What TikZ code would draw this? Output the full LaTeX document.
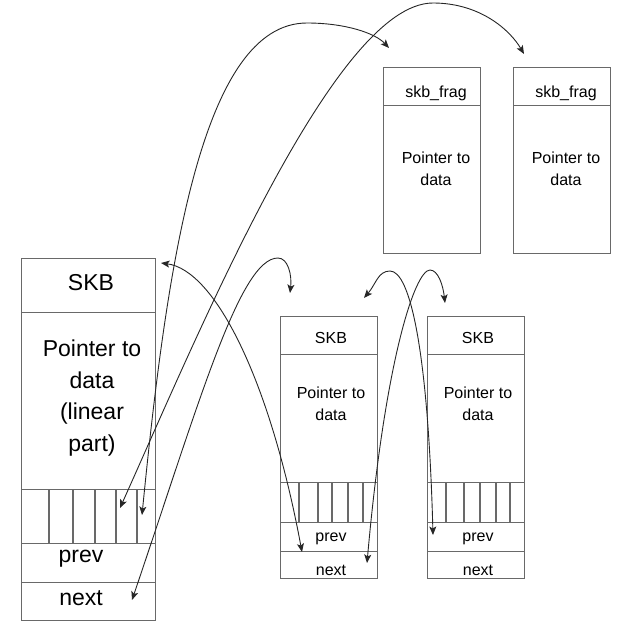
\documentclass[tikz,border=0pt]{standalone}
\usepackage{fontspec}
\setmainfont{Liberation Sans}
\usetikzlibrary{arrows.meta}
\definecolor{boxgray}{RGB}{105,105,105}
\newcommand{\bigtxt}{\fontsize{23}{31.5}\selectfont}
\newcommand{\smalltxt}{\fontsize{16}{22}\selectfont}
\begin{document}
\begin{tikzpicture}[
			x=1pt, y=-1pt,
			cell/.style={draw=boxgray, line width=1.3pt, rectangle, anchor=north west, inner sep=0},
			bigcell/.style={cell, minimum width=134pt},
			smallcell/.style={cell, minimum width=97pt},
			slotline/.style={draw=boxgray, line width=1.1pt},
			bigtext/.style={align=center, inner sep=0, font=\bigtxt},
			smalltext/.style={align=center, inner sep=0, font=\smalltxt},
			link/.style={black!85, line width=0.9pt, {Stealth[length=8.5pt,width=7pt,inset=2pt]}-{Stealth[length=8.5pt,width=7pt,inset=2pt]}},
		]
		\useasboundingbox (0,0) rectangle (625,637);
		% linear SKB
		\node[bigcell, minimum height=54pt] (bighead) at (21,258) {};
		\node[bigcell, minimum height=177pt] (bigdata) at (21,312) {};
		\node[bigcell, minimum height=54pt] (bigslots) at (21,489) {};
		\node[bigcell, minimum height=39pt] (bigprev) at (21,543) {};
		\node[bigcell, minimum height=38pt] (bignext) at (21,582) {};
		\foreach \x in {49,73,95,116,137}
			\draw[slotline] (\x,489) -- (\x,543);
		\node[bigtext] (bigheadtext) at (91,283) {SKB};
		\node[bigtext] (bigdatatext) at (92,398) {Pointer to\\data\\(linear\\part)};
		\node[bigtext] (bigprevtext) at (81,559) {prev};
		\node[bigtext] (bignexttext) at (81,598) {next};
		% fragments
		\foreach \n/\x in {A/383,B/513} {
			\node[smallcell, minimum height=38pt] (frag\n head) at (\x,67) {};
			\node[smallcell, minimum height=148pt] (frag\n data) at (\x,105) {};
			\node[smalltext] (frag\n headtext) at (\x+53,93) {skb\_frag};
			\node[smalltext] (frag\n datatext) at (\x+53,169) {Pointer to\\data};
		}
		% list SKBs
		\foreach \n/\x in {A/280,B/427} {
			\node[smallcell, minimum height=38pt] (skb\n head) at (\x,316) {};
			\node[smallcell, minimum height=128pt] (skb\n data) at (\x,354) {};
			\node[smallcell, minimum height=40pt] (skb\n slots) at (\x,482) {};
			\node[smallcell, minimum height=29pt] (skb\n prev) at (\x,522) {};
			\node[smallcell, minimum height=27pt] (skb\n next) at (\x,551) {};
			\node[smalltext] (skb\n headtext) at (\x+51,338) {SKB};
			\node[smalltext] (skb\n datatext) at (\x+51,404) {Pointer to\\data};
			\node[smalltext] (skb\n prevtext) at (\x+51,539) {prev};
			\node[smalltext] (skb\n nexttext) at (\x+51,570) {next};
		}
		\foreach \x in {299,318,332,348,363,446,464,480,496,510}
			\draw[slotline] (\x,482) -- (\x,522);
		% link ends
		\coordinate (bigslotA) at (142,515);
		\coordinate (bigslotB) at (120,508);
		\coordinate (bignextend) at (132,600);
		\coordinate (bigtop) at (161,263);
		\coordinate (fragAtop) at (389,48);
		\coordinate (fragBtop) at (524,54);
		\coordinate (skbAtop) at (290,293);
		\coordinate (skbAtopright) at (364,298);
		\coordinate (skbAprevend) at (302,552);
		\coordinate (skbAnextend) at (367,563);
		\coordinate (skbBtop) at (445,303);
		\coordinate (skbBprevend) at (433,535);
		% links
		\draw[link] (bigslotA) .. controls (167,262) and (202,23) .. (307,23)
			.. controls (345,23) and (375,33) .. (fragAtop);
		\draw[link] (bigslotB) .. controls (200,330) and (335,3) .. (433,3)
			.. controls (480,3) and (510,30) .. (fragBtop);
		\draw[link] (bignextend) .. controls (200,400) and (240,258) .. (278,258)
			.. controls (288,258) and (292,275) .. (skbAtop);
		\draw[link] (skbAprevend) .. controls (270,380) and (215,270) .. (bigtop);
		\draw[link] (skbAtopright) .. controls (376,284) and (378,271) .. (390,271)
			.. controls (410,271) and (428,350) .. (skbBprevend);
		\draw[link] (skbBtop) .. controls (443,285) and (438,270) .. (430,270)
			.. controls (415,270) and (385,360) .. (skbAnextend);
\end{tikzpicture}
\end{document}
